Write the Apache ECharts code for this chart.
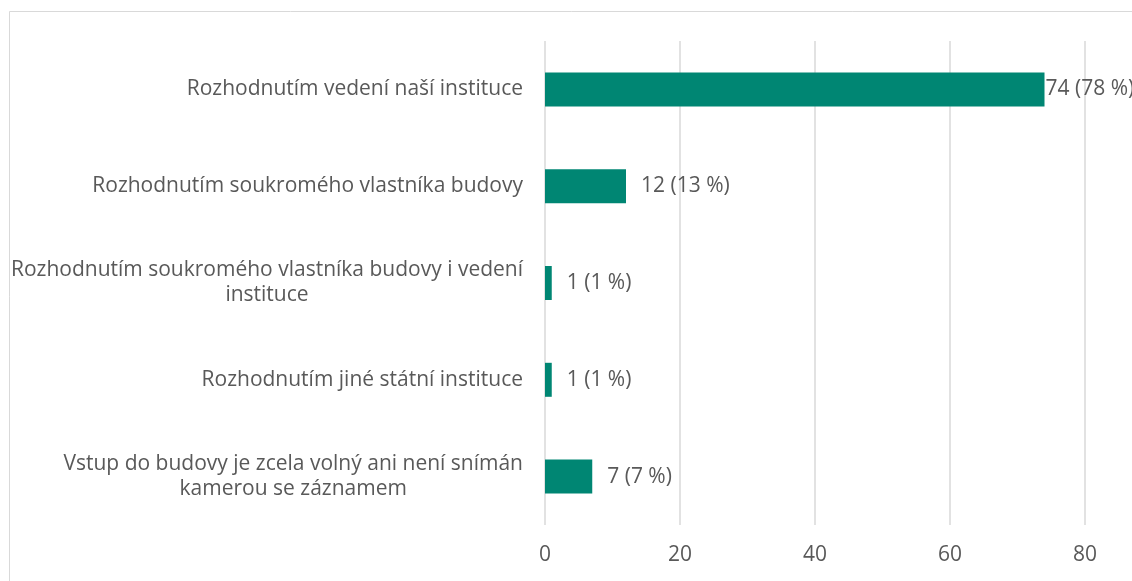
<!DOCTYPE html>
<html>
<head>
<meta charset="utf-8">
<script src="https://cdn.jsdelivr.net/npm/echarts@6/dist/echarts.min.js"></script>
<style>
  html, body { margin: 0; padding: 0; background: #fff; }
  #chart { width: 1132px; height: 581px; }
</style>
</head>
<body>
<div id="chart"></div>
<script>
// categories top to bottom
var categories = [
	'Rozhodnutím vedení naší instituce',
	'Rozhodnutím soukromého vlastníka budovy',
	'Rozhodnutím soukromého vlastníka budovy i vedení\ninstituce',
	'Rozhodnutím jiné státní instituce',
	'Vstup do budovy je zcela volný ani není snímán\nkamerou se záznamem'
];
var counts = [74, 12, 1, 1, 7];
var percents = [78, 13, 1, 1, 7];
var xTicks = [0, 20, 40, 60, 80];

var font = '"Open Sans", "Noto Sans", sans-serif';
var textColor = '#595959';

// y axis is inverted for horizontal bars, so reverse everything
var cats = categories.slice().reverse();
var barData = counts.map(function (v, i) {
	return {
		value: v,
		pct: percents[i],
		label: { distance: v > 60 ? 1 : 15 }
	};
}).reverse();

var myChart = echarts.init(document.getElementById('chart'));
var option = {
	animation: false,
	backgroundColor: '#fff',
	graphic: [{
		type: 'rect',
		shape: { x: 9.5, y: 11.5, width: 1300, height: 800 },
		style: { fill: 'none', stroke: '#d9d9d9', lineWidth: 1 },
		silent: true
	}],
	grid: { left: 545, right: 47, top: 41, bottom: 56 },
	xAxis: {
		type: 'value',
		min: xTicks[0],
		max: xTicks[xTicks.length - 1],
		interval: xTicks[1] - xTicks[0],
		axisLine: { show: false },
		axisTick: { show: false },
		splitLine: { lineStyle: { color: '#d9d9d9', width: 1.5 } },
		axisLabel: { color: textColor, fontFamily: font, fontSize: 21, margin: 20 }
	},
	yAxis: {
		type: 'category',
		data: cats,
		axisLine: { show: false },
		axisTick: { show: false },
		axisLabel: {
			color: textColor,
			fontFamily: font,
			fontSize: 21,
			margin: 22,
			lineHeight: 25,
			formatter: function (val) {
				return val.split('\n').map(function (s) { return '{c|' + s + '}'; }).join('\n');
			},
			rich: {
				c: { align: 'center', color: textColor, fontFamily: font, fontSize: 21, lineHeight: 25 }
			}
		}
	},
	series: [{
		type: 'bar',
		data: barData,
		barWidth: 34,
		itemStyle: { color: '#008673' },
		label: {
			show: true,
			position: 'right',
			color: textColor,
			fontFamily: font,
			fontSize: 21,
			formatter: function (p) {
				return p.value + ' (' + p.data.pct + ' %)';
			}
		}
	}]
};
myChart.setOption(option);
</script>
</body>
</html>
